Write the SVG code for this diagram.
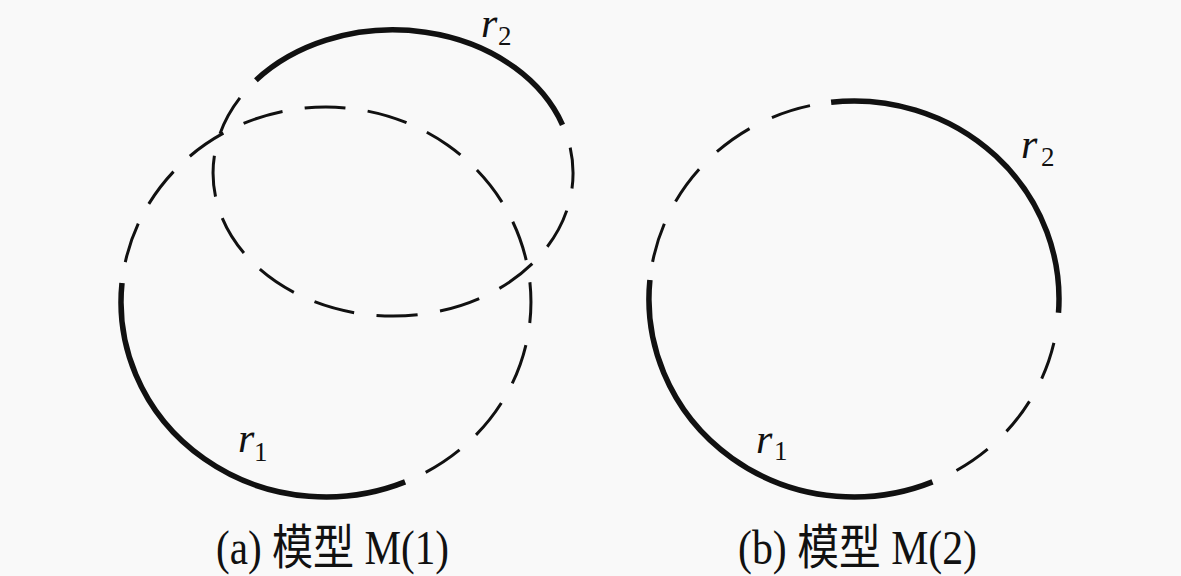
<svg xmlns="http://www.w3.org/2000/svg" width="1181" height="576" viewBox="0 0 1181 576">
<style>
.solid{fill:none;stroke:#111;stroke-width:5.5;stroke-linecap:butt}
.dash{fill:none;stroke:#111;stroke-width:3;stroke-linecap:butt}
.lbl{font-family:"Liberation Serif",serif;font-style:italic;font-size:42px;fill:#111}
.sub{font-family:"Liberation Serif",serif;font-size:27px;fill:#111}
.cap{font-family:"Liberation Serif","Noto Sans CJK SC",serif;font-size:48px;fill:#111}
</style>
<rect width="1181" height="576" fill="#f9f9f9"/>
<g id="fig-a">
  <g id="a-r1">
    <path class="solid" d="M405.1,481.9 A205,195 0 0 1 122,283"/>
    <path class="dash" d="M425.7,472.4 A205,195 0 1 0 125.3,262.1" pathLength="784" stroke-dasharray="40 22"/>
  </g>
  <g id="a-r2">
    <path class="solid" d="M255.9,80.3 A180,143 0 0 1 562.5,124.8"/>
    <path class="dash" d="M570.2,147.7 A180,143 0 1 1 239.9,97.9" pathLength="598" stroke-dasharray="40 22"/>
  </g>
  <text class="lbl" x="481" y="37">r</text><text class="sub" x="498" y="45">2</text>
  <text class="lbl" x="238" y="452">r</text><text class="sub" x="254" y="461">1</text>
  <text class="cap" x="216" y="564" textLength="233" lengthAdjust="spacingAndGlyphs">(a) 模型 M(1)</text>
</g>
<g id="fig-b">
  <g id="b-circle">
    <path class="solid" d="M831.1,102.2 A205,198 0 0 1 1058.5,312.8"/>
    <path class="solid" d="M932.5,481.9 A205,198 0 0 1 649.9,280"/>
    <path class="dash" d="M1053.9,342.9 A205,198 0 0 1 956.5,470.5" pathLength="166" stroke-dasharray="38 26"/>
    <path class="dash" d="M652.6,261.9 A205,198 0 0 1 810,105.6" pathLength="235" stroke-dasharray="40 25"/>
  </g>
  <text class="lbl" x="1021" y="158">r</text><text class="sub" x="1041" y="166">2</text>
  <text class="lbl" x="756" y="453">r</text><text class="sub" x="774" y="460">1</text>
  <text class="cap" x="738" y="564" textLength="239" lengthAdjust="spacingAndGlyphs">(b) 模型 M(2)</text>
</g>
</svg>
